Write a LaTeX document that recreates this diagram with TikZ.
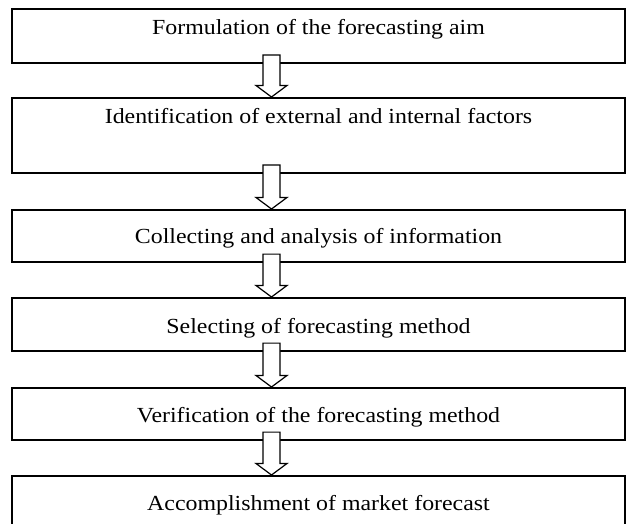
\documentclass[tikz,border=0pt]{standalone}
\usepackage{fontspec}
\setmainfont{Liberation Serif}[FakeStretch=1.11]
\usetikzlibrary{calc}

\begin{document}
\begin{tikzpicture}[x=1pt,y=1pt,
    stage/.style={draw,line width=1.6pt,anchor=north,minimum width=613pt,inner xsep=0pt,inner ysep=0pt,font=\fontsize{21.5}{25}\selectfont},
    blockarrow/.style={draw,fill=white,line width=1.2pt,line join=miter}]
  \useasboundingbox (0,0) rectangle (627,-524);
  % stages of the forecast
  \node[stage,text height=26pt,text depth=28pt] (aim) at (318.5,-8) {Formulation of the forecasting aim};
  \node[stage,text height=26pt,text depth=49pt] (factors) at (318.5,-97) {Identification of external and internal factors};
  \node[stage,text height=34pt,text depth=18pt] (info) at (318.5,-209) {Collecting and analysis of information};
  \node[stage,text height=36pt,text depth=17pt] (method) at (318.5,-297) {Selecting of forecasting method};
  \node[stage,text height=35pt,text depth=17pt] (verify) at (318.5,-387) {Verification of the forecasting method};
  \node[stage,text height=35pt,text depth=25pt] (forecast) at (318.5,-475) {Accomplishment of market forecast};
  % block arrows between the stages
  \foreach \a/\b in {aim/factors,factors/info,info/method,method/verify,verify/forecast}{
    \draw[blockarrow] let \p1=(\a.south), \p2=(\b.north) in
      (\x1-55.5pt,\y1+8.5pt) -- (\x1-38.5pt,\y1+8.5pt) -- (\x1-38.5pt,\y2+11.5pt)
      -- (\x1-31.5pt,\y2+11.5pt) -- (\x1-47pt,\y2) -- (\x1-62.5pt,\y2+11.5pt)
      -- (\x1-55.5pt,\y2+11.5pt) -- cycle;
  }
\end{tikzpicture}
\end{document}
